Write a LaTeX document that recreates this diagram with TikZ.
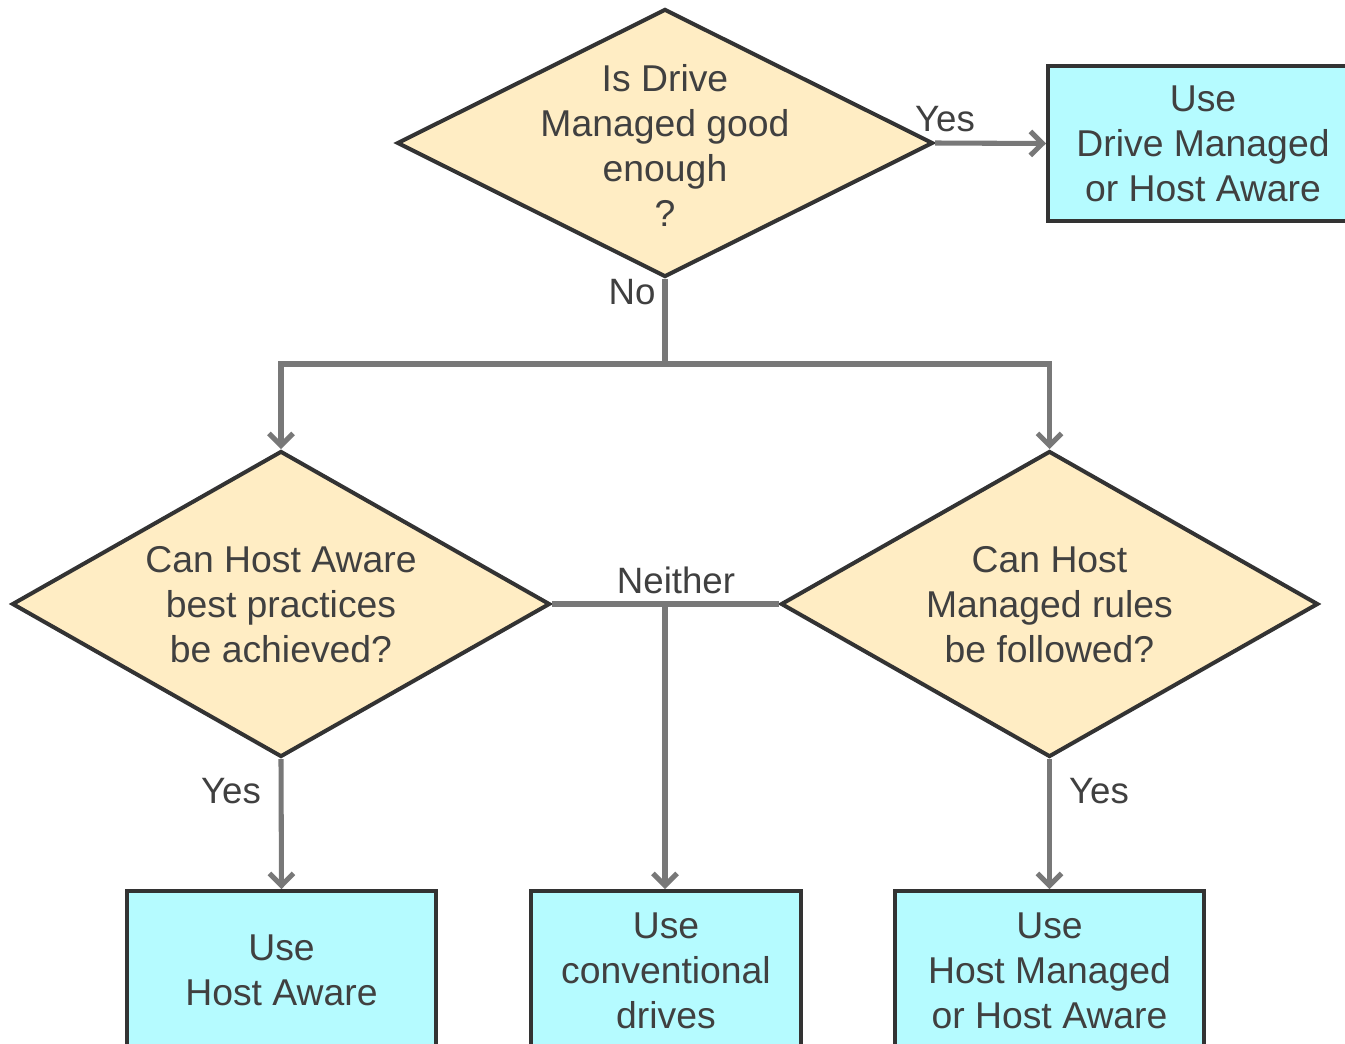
\documentclass[tikz,border=0pt]{standalone}
\usepackage{fontspec}
\setmainfont{Liberation Sans}
\usetikzlibrary{shapes.geometric,arrows.meta}
\definecolor{dfill}{HTML}{FFEDC4}
\definecolor{bfill}{HTML}{B5FBFF}
\definecolor{bord}{HTML}{333333}
\definecolor{conn}{HTML}{787878}
\definecolor{txt}{HTML}{404040}
\tikzset{
  dec/.style={diamond, draw=bord, fill=dfill, line width=3pt, inner sep=0pt, line join=miter},
  dectext/.style={align=center, text=txt, font=\fontsize{28}{33.75}\selectfont, inner sep=0pt},
  resbox/.style={rectangle, draw=bord, fill=bfill, line width=3pt, inner sep=0pt, align=center,
    text=txt, font=\fontsize{28}{33.75}\selectfont},
  conline/.style={draw=conn, line width=3.8pt},
  arr/.style={conline, -{Straight Barb[length=9pt,width=18pt,line width=3.8pt]}},
  lbl/.style={text=txt, font=\fontsize{27.5}{30}\selectfont, inner sep=0pt}
}
\begin{document}
\begin{tikzpicture}[x=0.75pt,y=-0.75pt]
\useasboundingbox (0,0) rectangle (1345,1043);
\clip (0,0) rectangle (1345,1043);
\fill[white] (0,0) rectangle (1345,1043);
% nodes
\node[dec, minimum width=402pt, minimum height=201pt] (top) at (665,143) {};
\node[dectext] (toptext) at (665,145) {Is Drive\\Managed good\\enough\\?};
\node[dec, minimum width=403.5pt, minimum height=229.5pt] (left) at (281,604) {};
\node[dectext] (lefttext) at (281,605) {Can Host Aware\\best practices\\be achieved?};
\node[dec, minimum width=403pt, minimum height=229.5pt] (right) at (1049.5,604) {};
\node[dectext] (righttext) at (1049.5,605) {Can Host\\Managed rules\\be followed?};
\node[resbox, minimum width=232.5pt, minimum height=116.25pt] (tr) at (1203,143.5)
  {Use\\Drive Managed\\or Host Aware};
\node[resbox, minimum width=231.75pt, minimum height=119.25pt] (bl) at (281.5,970.5)
  {Use\\Host Aware};
\node[resbox, minimum width=202.5pt, minimum height=119.25pt] (bm) at (666,970.5)
  {Use\\conventional\\drives};
\node[resbox, minimum width=231.75pt, minimum height=119.25pt] (br) at (1049.5,970.5)
  {Use\\Host Managed\\or Host Aware};
\coordinate (split) at (665,364);
\coordinate (mid) at (665,604);
% connectors
\draw[arr] (top.east) -- (tr.west);
\draw[conline] (top.south) -- (split);
\draw[arr] (split) -| (left.north);
\draw[arr] (split) -| (right.north);
\draw[conline] (left.east) -- (right.west);
\draw[arr] (mid) -- (mid |- bm.north);
\draw[arr] (left.south) -- (bl.north);
\draw[arr] (right.south) -- (br.north);
% labels
\node[lbl] (l1) at (945,119) {Yes};
\node[lbl] (l2) at (632,292) {No};
\node[lbl] (l3) at (676,580) {Neither};
\node[lbl] (l4) at (231,791) {Yes};
\node[lbl] (l5) at (1099,791) {Yes};
\end{tikzpicture}
\end{document}
